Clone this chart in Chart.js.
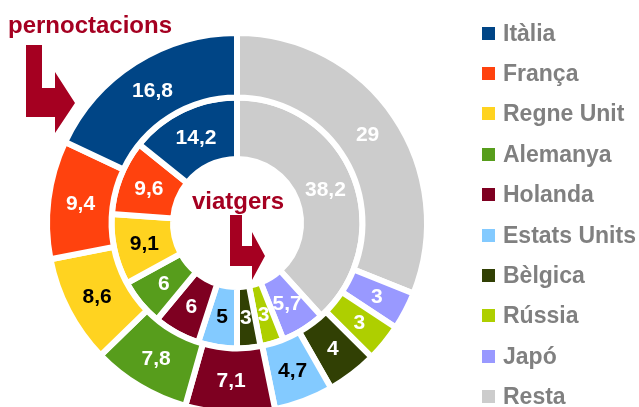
<!DOCTYPE html>
<html>
<head>
<meta charset="utf-8">
<script src="https://cdn.jsdelivr.net/npm/chart.js@4"></script>
<style>
    html, body { margin: 0; padding: 0; background: #fff; overflow: hidden; }
    #wrap { position: relative; width: 639px; height: 407px; font-family: "Liberation Sans", Arial, sans-serif; }
    #chart { position: absolute; left: 0; top: 0; }
    .titol { position: absolute; font-weight: bold; font-size: 24px; line-height: 1; color: #a50021; white-space: nowrap; }
    #legend { position: absolute; left: 482px; top: 13px; }
    #legend .item { display: flex; align-items: center; height: 40.4px; }
    #legend .box { width: 13px; height: 13px; margin-right: 8px; }
    #legend .txt { font-weight: bold; font-size: 23px; color: #808080; white-space: nowrap; }
    svg { position: absolute; left: 0; top: 0; }
</style>
</head>
<body>
<div id="wrap">
    <canvas id="chart" width="639" height="407"></canvas>
    <svg width="639" height="407">
        <polygon fill="#a50021" points="26,45 42,45 42,88 55,88 55,72 75,103 55,133 55,117 26,117"/>
        <polygon fill="#a50021" points="230,215 242,215 242,246 252,246 252,232 265,256 252,280 252,266 230,266"/>
    </svg>
    <div class="titol" style="left:8px; top:13px;">pernoctacions</div>
    <div class="titol" style="left:192px; top:189px;">viatgers</div>
    <div id="legend"></div>
</div>
<script>
    // dades (ordre de la llegenda)
    let paisos = ['Itàlia', 'França', 'Regne Unit', 'Alemanya', 'Holanda', 'Estats Units', 'Bèlgica', 'Rússia', 'Japó', 'Resta'];
    let pernoctacions = [16.8, 9.4, 8.6, 7.8, 7.1, 4.7, 4, 3, 3, 29];
    let viatgers = [14.2, 9.6, 9.1, 6, 6, 5, 3, 3, 5.7, 38.2];
    let colors = ['#004586', '#ff420e', '#ffd320', '#579d1c', '#7e0021', '#83caff', '#314004', '#aecf00', '#9999ff', '#cccccc'];
    let textFosc = ['Regne Unit', 'Estats Units'];

    // llegenda
    paisos.forEach((p, i) => {
        let item = document.createElement('div');
        item.className = 'item';
        item.innerHTML = '<span class="box" style="background:' + colors[i] + '"></span><span class="txt">' + p + '</span>';
        document.getElementById('legend').appendChild(item);
    });

    // el gràfic va en sentit horari des de dalt: Resta primer, Itàlia últim
    let labels = paisos.slice().reverse();
    let colorsRev = colors.slice().reverse();

    // etiquetes de valor dins de cada sector
    let valueLabels = {
        id: 'valueLabels',
        afterDatasetsDraw(chart) {
            let ctx = chart.ctx;
            ctx.save();
            ctx.font = 'bold 21px "Liberation Sans", Arial, sans-serif';
            ctx.textAlign = 'center';
            ctx.textBaseline = 'middle';
            chart.data.datasets.forEach((ds, d) => {
                chart.getDatasetMeta(d).data.forEach((arc, i) => {
                    let pos = arc.tooltipPosition();
                    ctx.fillStyle = textFosc.includes(labels[i]) ? '#000000' : '#ffffff';
                    ctx.fillText(String(ds.data[i]).replace('.', ','), pos.x, pos.y + 1);
                });
            });
            ctx.restore();
        }
    };

    let config = {
        type: 'doughnut',
        data: {
            labels: labels,
            datasets: [{
                label: 'pernoctacions',
                data: pernoctacions.slice().reverse(),
                backgroundColor: colorsRev,
                weight: 1.05
            }, {
                label: 'viatgers',
                data: viatgers.slice().reverse(),
                backgroundColor: colorsRev,
                weight: 1
            }]
        },
        options: {
            responsive: false,
            animation: false,
            radius: 190,
            cutout: '33.7%',
            borderColor: '#ffffff',
            borderWidth: 6,
            hoverOffset: 0,
            layout: { padding: { left: 0, right: 165, top: 39, bottom: 0 } },
            plugins: {
                legend: { display: false },
                tooltip: { enabled: false }
            }
        },
        plugins: [valueLabels]
    };

    let chart = new Chart(document.getElementById('chart'), config);
</script>
</body>
</html>
